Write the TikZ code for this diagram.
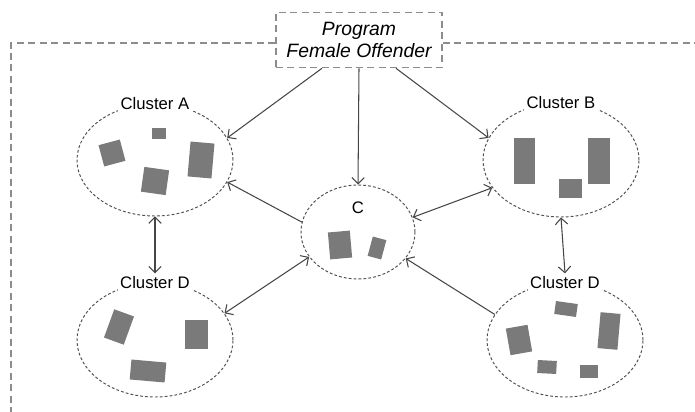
\documentclass[tikz,border=0pt]{standalone}
\usepackage{fontspec}
\setmainfont{Liberation Sans}
\usetikzlibrary{shapes.geometric,arrows.meta}
\definecolor{boxgray}{RGB}{122,122,122}
\definecolor{linegray}{RGB}{80,80,80}
\definecolor{framegray}{RGB}{140,140,140}
\definecolor{arrowgray}{RGB}{70,70,70}
\begin{document}
\begin{tikzpicture}[x=0.2mm, y=-0.2mm, font=\fontsize{9.5}{11}\selectfont,
  clu/.style={ellipse, draw=linegray, line width=0.55pt, dash pattern=on 1.6pt off 1.2pt, inner sep=0pt},
  lab/.style={fill=white, inner sep=1.5pt},
  blk/.style={fill=boxgray, inner sep=0pt, outer sep=0pt},
  frm/.style={draw=framegray, line width=0.9pt, dash pattern=on 4pt off 2.5pt},
  arr/.style={draw=arrowgray, line width=0.6pt, -{Straight Barb[length=3.5pt,width=7pt]}},
  darr/.style={draw=arrowgray, line width=0.6pt, {Straight Barb[length=3.5pt,width=7pt]}-{Straight Barb[length=3.5pt,width=7pt]}}]
\useasboundingbox (0,0) rectangle (695,412);

% outer frame and program box
\node[frm, minimum width=33.2mm, minimum height=11mm, align=center, font=\fontsize{11}{12.5}\selectfont\itshape] (prog) at (359,40) {Program\\Female Offender};
\draw[frm] (prog.west |- 0,43) -| (11,412);
\draw[frm] (prog.east |- 0,43) -- (695,43);

% clusters
\node[clu, minimum width=31.2mm, minimum height=22.4mm] (A) at (155,160) {};
\node[clu, minimum width=31.2mm, minimum height=22.8mm] (B) at (561,160) {};
\node[clu, minimum width=22.8mm, minimum height=18.8mm] (C) at (358,232) {};
\node[clu, minimum width=31.2mm, minimum height=22.8mm] (Dl) at (155,340) {};
\node[clu, minimum width=31.2mm, minimum height=22.8mm] (Dr) at (565,340) {};

\node[lab] (labA) at (A.north) {Cluster A};
\node[lab] (labB) at (B.north) {Cluster B};
\node (labC) at (358,208) {C};
\node[lab] (labDl) at (Dl.north) {Cluster D};
\node[lab] (labDr) at (Dr.north) {Cluster D};

% cluster A members
\node[blk, minimum width=2.8mm, minimum height=2.2mm] (a1) at (159,134) {};
\node[blk, minimum width=4.4mm, minimum height=4.4mm, rotate=15] (a2) at (112,153) {};
\node[blk, minimum width=5mm, minimum height=5mm, rotate=-8] (a3) at (155,181) {};
\node[blk, minimum width=4.8mm, minimum height=7mm, rotate=-5] (a4) at (201,160) {};

% cluster B members
\node[blk, minimum width=4.2mm, minimum height=9mm] (b1) at (524,161) {};
\node[blk, minimum width=4.6mm, minimum height=3.8mm] (b2) at (570,188) {};
\node[blk, minimum width=4.4mm, minimum height=9mm] (b3) at (599,161) {};

% C members
\node[blk, minimum width=4.4mm, minimum height=5.4mm, rotate=5] (c1) at (340,245) {};
\node[blk, minimum width=2.8mm, minimum height=4mm, rotate=-15] (c2) at (377,248) {};

% left cluster D members
\node[blk, minimum width=4.2mm, minimum height=6mm, rotate=-20] (d1) at (119,327) {};
\node[blk, minimum width=4.6mm, minimum height=5.8mm] (d2) at (196,334) {};
\node[blk, minimum width=7mm, minimum height=4mm, rotate=-5] (d3) at (148,371) {};

% right cluster D members
\node[blk, minimum width=4.4mm, minimum height=2.6mm, rotate=-8] (e1) at (566,309) {};
\node[blk, minimum width=4.4mm, minimum height=5.4mm, rotate=10] (e2) at (519,340) {};
\node[blk, minimum width=4mm, minimum height=7.2mm, rotate=-5] (e3) at (609,331) {};
\node[blk, minimum width=3.8mm, minimum height=2.6mm, rotate=-3] (e4) at (547,367) {};
\node[blk, minimum width=3.6mm, minimum height=2.6mm] (e5) at (589,371) {};

% links
\draw[arr] ([xshift=-7.4mm]prog.south) -- (A.17);
\draw[arr] (prog.south) -- (C.north);
\draw[arr] ([xshift=7.4mm]prog.south) -- (B.163);
\draw[arr] (C.170) -- (A.-17);
\draw[darr] (C.15) -- (B.202);
\draw[darr] (A.south) -- (labDl.north);
\draw[darr] (B.south) -- (labDr.north);
\draw[darr] (Dl.21) -- (C.207);
\draw[arr] (Dr.160) -- (C.-29);
\end{tikzpicture}
\end{document}
